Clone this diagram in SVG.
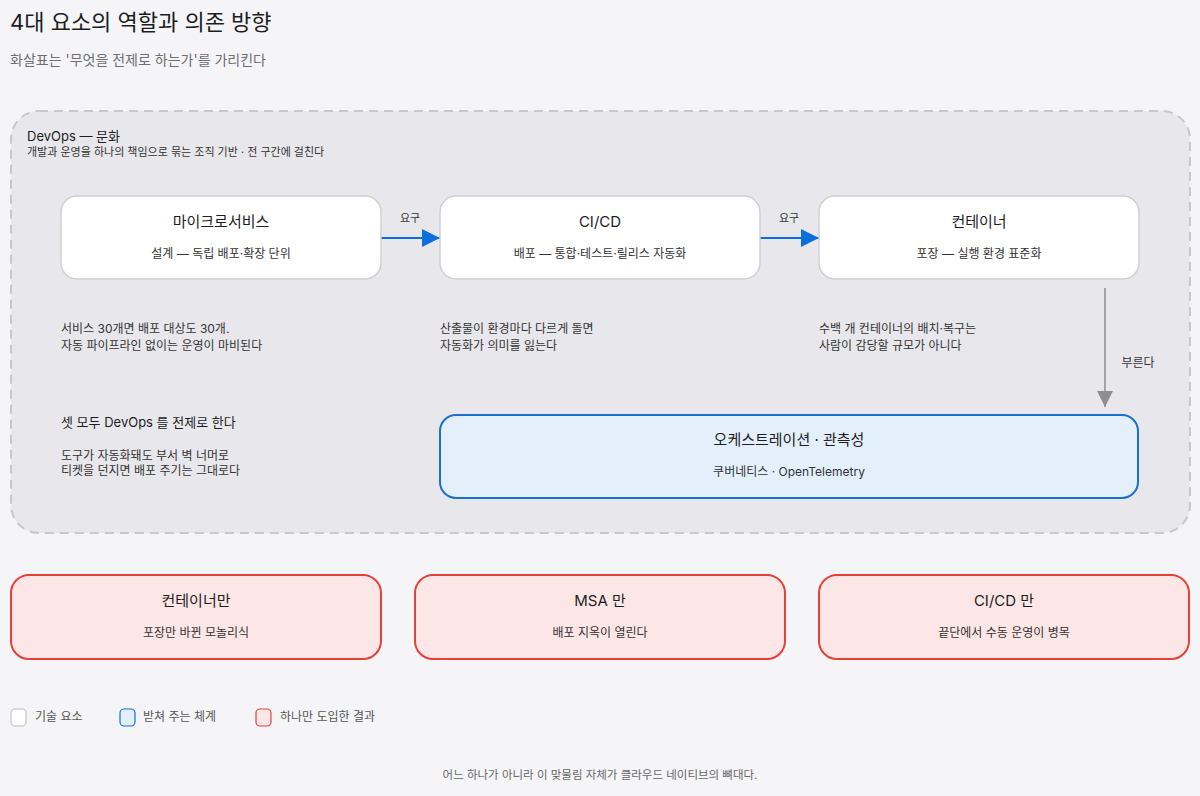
<svg xmlns="http://www.w3.org/2000/svg" width="1200" height="796" viewBox="0 0 1200 796">
<defs>
<style>
text{font-family:"Inter","Noto Sans CJK KR",sans-serif;fill:#1d1d1f}
.t{font-size:15px;text-anchor:middle}
.s{font-size:12px;text-anchor:middle;fill:#333}
.n{font-size:12px;fill:#333}
.lab{font-size:11px;fill:#333;text-anchor:middle}
.tech{fill:#ffffff;stroke:#d0d0d4;stroke-width:1.5}
.sys{fill:#e3f0fc;stroke:#1a6fd0;stroke-width:2}
.bad{fill:#fde6e6;stroke:#e5413a;stroke-width:2}
</style>
<marker id="ab" viewBox="0 0 10 10" refX="10" refY="5" markerWidth="18" markerHeight="18" markerUnits="userSpaceOnUse" orient="auto"><path d="M0,0 L10,5 L0,10 z" fill="#0b6fdc"/></marker>
<marker id="ag" viewBox="0 0 10 10" refX="10" refY="5" markerWidth="16" markerHeight="16" markerUnits="userSpaceOnUse" orient="auto"><path d="M0,0 L10,5 L0,10 z" fill="#8e8e92"/></marker>
</defs>
<rect width="1200" height="796" fill="#f5f5f7"/>
<text x="10" y="30" style="font-size:22px">4대 요소의 역할과 의존 방향</text>
<text x="10" y="65" style="font-size:14px;fill:#6e6e73">화살표는 '무엇을 전제로 하는가'를 가리킨다</text>

<g id="devops">
<rect x="11" y="111" width="1179" height="422" rx="28" fill="#e8e8ec" stroke="#c8c8cc" stroke-width="2" stroke-dasharray="9 6"/>
<text x="27" y="141" style="font-size:13px">DevOps — 문화</text>
<text x="27" y="156" style="font-size:11px;fill:#333">개발과 운영을 하나의 책임으로 묶는 조직 기반 · 전 구간에 걸친다</text>
<text x="61" y="427" style="font-size:13px">셋 모두 DevOps 를 전제로 한다</text>
<text x="61" y="460" class="n">도구가 자동화돼도 부서 벽 너머로</text>
<text x="61" y="475" class="n">티켓을 던지면 배포 주기는 그대로다</text>
</g>

<g id="connectors">
<line x1="381" y1="238" x2="440" y2="238" stroke="#0b6fdc" stroke-width="2" marker-end="url(#ab)"/>
<text x="410" y="222" class="lab">요구</text>
<line x1="760" y1="238" x2="819" y2="238" stroke="#0b6fdc" stroke-width="2" marker-end="url(#ab)"/>
<text x="789" y="222" class="lab">요구</text>
<line x1="1105" y1="288" x2="1105" y2="407" stroke="#8e8e92" stroke-width="1.5" marker-end="url(#ag)"/>
<text x="1138" y="367" class="lab" style="font-size:12px">부른다</text>
</g>

<g id="msa">
<rect x="61" y="196" width="320" height="83" rx="16" class="tech"/>
<text x="221" y="227" class="t">마이크로서비스</text>
<text x="221" y="258" class="s">설계 — 독립 배포·확장 단위</text>
<text x="61" y="333" class="n">서비스 30개면 배포 대상도 30개.</text>
<text x="61" y="350" class="n">자동 파이프라인 없이는 운영이 마비된다</text>
</g>
<g id="cicd">
<rect x="440" y="196" width="320" height="83" rx="16" class="tech"/>
<text x="600" y="227" class="t">CI/CD</text>
<text x="600" y="258" class="s">배포 — 통합·테스트·릴리스 자동화</text>
<text x="440" y="333" class="n">산출물이 환경마다 다르게 돌면</text>
<text x="440" y="350" class="n">자동화가 의미를 잃는다</text>
</g>
<g id="container">
<rect x="819" y="196" width="320" height="83" rx="16" class="tech"/>
<text x="979" y="227" class="t">컨테이너</text>
<text x="979" y="258" class="s">포장 — 실행 환경 표준화</text>
<text x="819" y="333" class="n">수백 개 컨테이너의 배치·복구는</text>
<text x="819" y="350" class="n">사람이 감당할 규모가 아니다</text>
</g>
<g id="orchestration">
<rect x="440" y="415" width="698" height="83" rx="16" class="sys"/>
<text x="789" y="445" class="t">오케스트레이션 · 관측성</text>
<text x="789" y="476" class="s">쿠버네티스 · OpenTelemetry</text>
</g>

<g id="only-container">
<rect x="11" y="575" width="370" height="84" rx="18" class="bad"/>
<text x="196" y="606" class="t">컨테이너만</text>
<text x="196" y="637" class="s">포장만 바뀐 모놀리식</text>
</g>
<g id="only-msa">
<rect x="415" y="575" width="370" height="84" rx="18" class="bad"/>
<text x="600" y="606" class="t">MSA 만</text>
<text x="600" y="637" class="s">배포 지옥이 열린다</text>
</g>
<g id="only-cicd">
<rect x="819" y="575" width="370" height="84" rx="18" class="bad"/>
<text x="1004" y="606" class="t">CI/CD 만</text>
<text x="1004" y="637" class="s">끝단에서 수동 운영이 병목</text>
</g>

<g id="legend">
<rect x="11" y="709" width="15" height="17" rx="4" class="tech"/>
<text x="35" y="721" class="n" style="fill:#555">기술 요소</text>
<rect x="120" y="709" width="15" height="17" rx="4" fill="#e3f0fc" stroke="#1a6fd0" stroke-width="1.2"/>
<text x="143" y="721" class="n" style="fill:#555">받쳐 주는 체계</text>
<rect x="256" y="709" width="15" height="17" rx="4" fill="#fde6e6" stroke="#e5413a" stroke-width="1.2"/>
<text x="280" y="721" class="n" style="fill:#555">하나만 도입한 결과</text>
</g>
<text x="600" y="779" class="s" style="fill:#666;font-size:11.5px">어느 하나가 아니라 이 맞물림 자체가 클라우드 네이티브의 뼈대다.</text>
</svg>
